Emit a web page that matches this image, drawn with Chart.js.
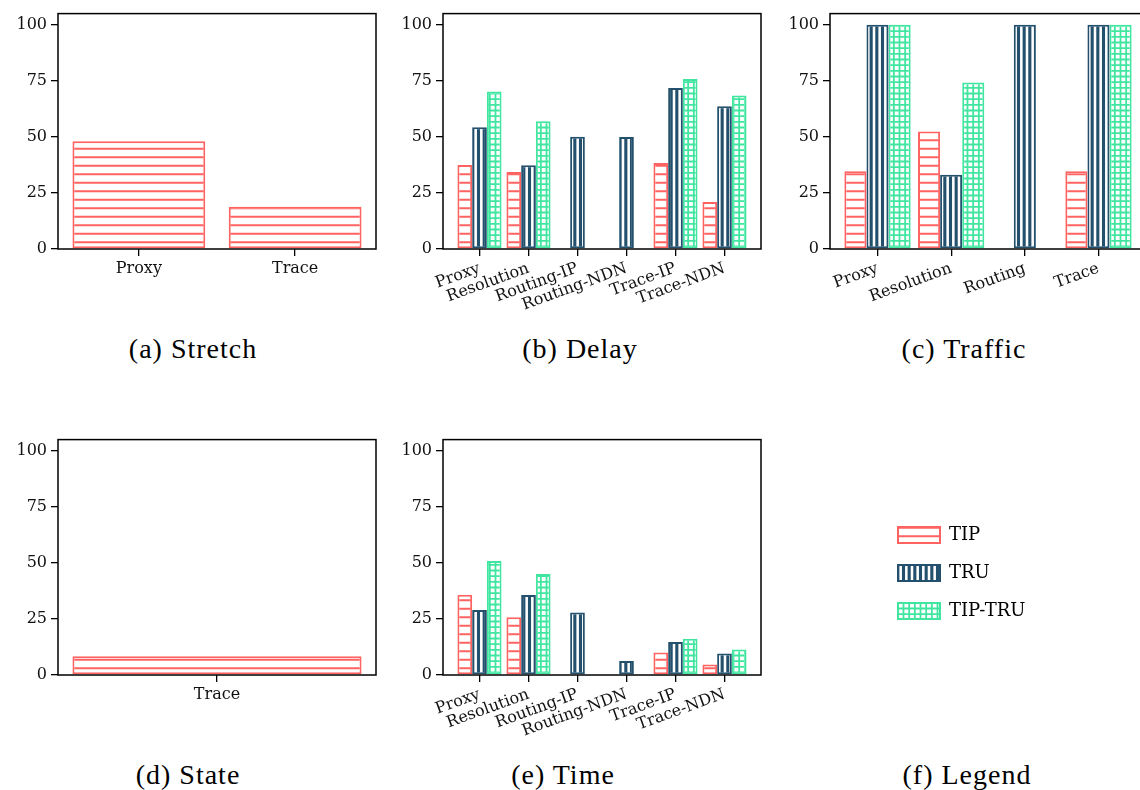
<!DOCTYPE html>
<html>
<head>
<meta charset="utf-8">
<script src="https://cdn.jsdelivr.net/npm/chart.js@4.4.1/dist/chart.umd.min.js"></script>
<style>
  html, body { margin: 0; padding: 0; background: #fff; }
  body { width: 1140px; height: 790px; position: relative; overflow: hidden; }
  canvas { position: absolute; }
  .cap {
    position: absolute;
    font-family: "Liberation Serif", serif;
    font-size: 28px;
    letter-spacing: 1px;
    color: #000;
    transform: translate(-50%, -50%);
    white-space: nowrap;
  }
</style>
</head>
<body>
<canvas id="stretch" width="380" height="300" style="left:0px;top:0px"></canvas>
<canvas id="delay" width="380" height="320" style="left:385px;top:0px"></canvas>
<canvas id="traffic" width="378" height="320" style="left:772px;top:0px"></canvas>
<canvas id="state" width="380" height="300" style="left:0px;top:426px"></canvas>
<canvas id="time" width="380" height="320" style="left:385px;top:426px"></canvas>
<canvas id="legend" width="380" height="180" style="left:878px;top:498px"></canvas>

<div class="cap" style="left:193px;top:349px">(a) Stretch</div>
<div class="cap" style="left:580px;top:349px">(b) Delay</div>
<div class="cap" style="left:964px;top:349px">(c) Traffic</div>
<div class="cap" style="left:188px;top:775px">(d) State</div>
<div class="cap" style="left:563px;top:775px">(e) Time</div>
<div class="cap" style="left:967px;top:775px">(f) Legend</div>

<script>
// values (percent)
const yTicks = [0, 25, 50, 75, 100];
const yMax = 105;

const stretchCats = ["Proxy", "Trace"];
const stretchTIP = [48.1, 18.8];

const delayCats = ["Proxy", "Resolution", "Routing-IP", "Routing-NDN", "Trace-IP", "Trace-NDN"];
const delayTIP = [37.5, 34.3, null, null, 38.4, 21.0];
const delayTRU = [54.3, 37.4, 50.1, 50.0, 71.8, 63.7];
const delayTIPTRU = [70.3, 57.0, null, null, 75.8, 68.5];

const trafficCats = ["Proxy", "Resolution", "Routing", "Trace"];
const trafficTIP = [34.7, 52.4, null, 34.7];
const trafficTRU = [100, 33.1, 100, 100];
const trafficTIPTRU = [100, 74.3, null, 100];

const stateCats = ["Trace"];
const stateTIP = [8.4];

const timeCats = ["Proxy", "Resolution", "Routing-IP", "Routing-NDN", "Trace-IP", "Trace-NDN"];
const timeTIP = [35.8, 25.8, null, null, 10.0, 4.7];
const timeTRU = [29.0, 35.7, 27.9, 6.3, 14.7, 9.6];
const timeTIPTRU = [50.9, 45.0, null, null, 16.2, 11.4];

Chart.defaults.font.family = "DejaVu Serif";
Chart.defaults.color = "#000";
Chart.defaults.animation = false;

const look = {
  "TIP": { color: "#ff6361", hatch: "h" },
  "TRU": { color: "#22506d", hatch: "v" },
  "TIP-TRU": { color: "#40e6a0", hatch: "g" }
};

// hatch fills, like matplotlib's '--', '|||' and '+++'
function hatch(kind, color) {
  const s = 17;
  const c = document.createElement("canvas");
  c.width = s; c.height = s;
  const g = c.getContext("2d");
  g.fillStyle = "#fff";
  g.fillRect(0, 0, s, s);
  g.strokeStyle = color;
  const third = [s / 6, s / 2, 5 * s / 6];
  g.beginPath();
  if (kind === "h") {
    g.lineWidth = 1.8;
    [s / 4, 3 * s / 4].forEach(y => { g.moveTo(0, y); g.lineTo(s, y); });
  } else if (kind === "v") {
    g.lineWidth = 3.1;
    third.forEach(x => { g.moveTo(x, 0); g.lineTo(x, s); });
  } else {
    g.lineWidth = 1.8;
    third.forEach(x => { g.moveTo(x, 0); g.lineTo(x, s); });
    third.forEach(y => { g.moveTo(0, y); g.lineTo(s, y); });
  }
  g.stroke();
  return g.createPattern(c, "repeat");
}

function dataset(name, values, catPct) {
  const st = look[name];
  return {
    label: name,
    data: values.map((v, i) => ({ x: i, y: v })),
    backgroundColor: hatch(st.hatch, st.color),
    borderColor: st.color,
    borderWidth: 2,
    borderSkipped: false,
    categoryPercentage: catPct,
    barPercentage: 1
  };
}

const frame = {
  id: "frame",
  afterDraw(chart) {
    const { ctx, chartArea: a } = chart;
    ctx.save();
    ctx.strokeStyle = "#000";
    ctx.lineWidth = 1.5;
    ctx.strokeRect(a.left, a.top, a.right - a.left, a.bottom - a.top);
    ctx.restore();
  }
};

function makeChart(id, cats, series, rot, xHeight) {
  const n = cats.length;
  const w = series.length > 1 ? 0.9 : 0.85;
  const m = 0.05 * (n - 1 + w);
  const catPct = n > 1 ? w : w / (w + 2 * m);
  const tickFont = { family: "DejaVu Serif", size: 16 };
  new Chart(document.getElementById(id), {
    type: "bar",
    data: { datasets: series.map(s => dataset(s[0], s[1], catPct)) },
    plugins: [frame],
    options: {
      responsive: false,
      events: [],
      layout: { padding: { top: 12, right: 4, left: 0, bottom: 0 } },
      plugins: { legend: { display: false }, tooltip: { enabled: false } },
      scales: {
        x: {
          type: "linear",
          offset: false,
          min: -w / 2 - m,
          max: n - 1 + w / 2 + m,
          afterBuildTicks: sc => { sc.ticks = cats.map((c, i) => ({ value: i })); },
          afterFit: sc => { sc.height = xHeight; },
          border: { display: false },
          grid: { offset: false, drawOnChartArea: false, drawTicks: true, tickLength: 7, color: "#000", lineWidth: 1.3 },
          ticks: {
            autoSkip: false, minRotation: rot, maxRotation: rot, padding: 3,
            color: "#111", font: tickFont,
            callback: v => cats[v]
          }
        },
        y: {
          min: 0,
          max: yMax,
          afterBuildTicks: sc => { sc.ticks = yTicks.map(v => ({ value: v })); },
          afterFit: sc => { sc.width = 58; },
          border: { display: false },
          grid: { drawOnChartArea: false, drawTicks: true, tickLength: 7, color: "#000", lineWidth: 1.3 },
          ticks: { padding: 4, color: "#111", font: tickFont }
        }
      }
    }
  });
}

makeChart("stretch", stretchCats, [["TIP", stretchTIP]], 0, 51);
makeChart("delay", delayCats, [["TIP", delayTIP], ["TRU", delayTRU], ["TIP-TRU", delayTIPTRU]], 20, 71);
makeChart("traffic", trafficCats, [["TIP", trafficTIP], ["TRU", trafficTRU], ["TIP-TRU", trafficTIPTRU]], 20, 71);
makeChart("state", stateCats, [["TIP", stateTIP]], 0, 51);
makeChart("time", timeCats, [["TIP", timeTIP], ["TRU", timeTRU], ["TIP-TRU", timeTIPTRU]], 20, 71);

// legend panel (f)
new Chart(document.getElementById("legend"), {
  type: "bar",
  data: { datasets: ["TIP", "TRU", "TIP-TRU"].map(s => dataset(s, [], 0.9)) },
  options: {
    responsive: false,
    events: [],
    layout: { padding: { top: 8, left: 0 } },
    scales: { x: { display: false }, y: { display: false } },
    plugins: {
      tooltip: { enabled: false },
      legend: {
        position: "left",
        align: "start",
        labels: {
          boxWidth: 42, boxHeight: 16, padding: 20,
          color: "#000",
          font: { family: "DejaVu Serif", size: 18 }
        }
      }
    }
  }
});
</script>
</body>
</html>
